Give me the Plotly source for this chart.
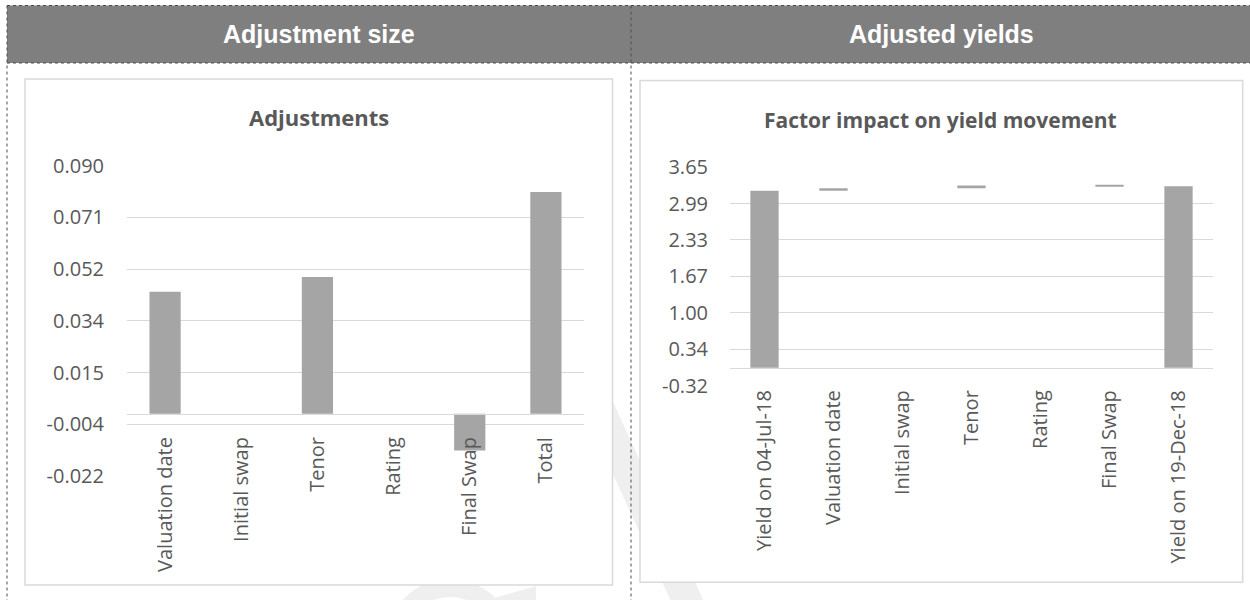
import numpy as np
import plotly.graph_objects as go

# ---- data ----
adj_categories = ["Valuation date", "Initial swap", "Tenor", "Rating", "Final Swap", "Total"]
adj_values = [0.0440, 0.0, 0.0493, 0.0, -0.0133, 0.0800]
adj_tick_labels = ["-0.022", "-0.004", "0.015", "0.034", "0.052", "0.071", "0.090"]

yield_categories = ["Yield on 04-Jul-18", "Valuation date", "Initial swap", "Tenor",
                    "Rating", "Final Swap", "Yield on 19-Dec-18"]
yield_start = 3.22
yield_end = 3.30
yield_steps = [0.0440, 0.0, 0.0493, 0.0, -0.0133]
yield_tick_labels = ["-0.32", "0.34", "1.00", "1.67", "2.33", "2.99", "3.65"]

# ---- page geometry (pixels) ----
W, H = 1250, 600
BAR = "#a5a5a5"
GRID = "#d9d9d9"
TXT = "#595959"
FONT = "Open Sans"


def px(x):
    return x / W


def py(y):
    return 1 - y / H


# waterfall bases: each step floats on the running total
cum = yield_start
step_bases = []
for s in yield_steps:
    step_bases.append(cum)
    cum += s
wf_bases = [0] + step_bases + [0]
wf_heights = [yield_start] + yield_steps + [yield_end]

fig = go.Figure()
fig.add_trace(go.Bar(x=adj_categories, y=adj_values, marker=dict(color=BAR, line=dict(width=0)),
                     xaxis="x", yaxis="y", hoverinfo="skip", showlegend=False))
fig.add_trace(go.Bar(x=yield_categories, y=wf_heights, base=wf_bases,
                     marker=dict(color=BAR, line=dict(width=0)),
                     xaxis="x2", yaxis="y2", hoverinfo="skip", showlegend=False))

# axis ranges and tick positions
y1_min, y1_max = -0.0225, 0.0895
y2_min, y2_max = -0.3225, 3.6475
y1_ticks = np.linspace(y1_min, y1_max, len(adj_tick_labels))
y2_ticks = np.linspace(y2_min, y2_max, len(yield_tick_labels))
eps1 = (y1_max - y1_min) * 0.002
eps2 = (y2_max - y2_min) * 0.002

y1_dom = [py(476.7), py(165)]
y2_dom = [py(386), py(166.7)]


def zero_pos(dom, lo, hi):
    return dom[0] + (0 - lo) / (hi - lo) * (dom[1] - dom[0])


tickfont = dict(family=FONT, size=20, color=TXT)

fig.update_layout(
    width=W, height=H, autosize=False,
    margin=dict(l=0, r=0, t=0, b=0),
    paper_bgcolor="white", plot_bgcolor="rgba(0,0,0,0)",
    bargap=0.59,
    xaxis=dict(domain=[px(127), px(584)], anchor="free",
               position=zero_pos(y1_dom, y1_min, y1_max), automargin=False,
               showgrid=False, showline=True, linecolor=GRID, linewidth=1,
               tickangle=-90, tickfont=tickfont, ticks="", ticklabelstandoff=14,
               fixedrange=True),
    yaxis=dict(domain=y1_dom, range=[y1_min - eps1, y1_max + eps1], automargin=False,
               tickvals=list(y1_ticks), ticktext=adj_tick_labels,
               showgrid=True, gridcolor=GRID, gridwidth=1, zeroline=False,
               showline=False, ticks="", tickfont=tickfont, ticklabelstandoff=22,
               fixedrange=True),
    xaxis2=dict(domain=[px(730), px(1213)], anchor="free",
                position=zero_pos(y2_dom, y2_min, y2_max), automargin=False,
                showgrid=False, showline=True, linecolor=GRID, linewidth=1,
                tickangle=-90, tickfont=tickfont, ticks="", ticklabelstandoff=13,
                fixedrange=True),
    yaxis2=dict(domain=y2_dom, range=[y2_min - eps2, y2_max + eps2], anchor="x2",
                automargin=False,
                tickvals=list(y2_ticks), ticktext=yield_tick_labels,
                showgrid=True, gridcolor=GRID, gridwidth=1, zeroline=False,
                showline=False, ticks="", tickfont=tickfont, ticklabelstandoff=21,
                fixedrange=True),
)

shapes = []
# faint background mark
mark = "#efefef"
shapes.append(dict(type="line", xref="paper", yref="paper", layer="below",
                   x0=px(598), y0=py(405), x1=px(705), y1=py(640),
                   line=dict(color=mark, width=30)))
shapes.append(dict(type="path", xref="paper", yref="paper", layer="below",
                   path=f"M {px(487)} {py(600)} L {px(536)} {py(600)} L {px(536)} {py(586)} Z",
                   fillcolor=mark, line=dict(width=0)))
shapes.append(dict(type="circle", xref="paper", yref="paper", layer="below",
                   x0=px(395), y0=py(700), x1=px(505), y1=py(588),
                   line=dict(color=mark, width=18)))
# chart frames
shapes.append(dict(type="rect", xref="paper", yref="paper", layer="below",
                   x0=px(25), y0=py(585), x1=px(612.5), y1=py(79),
                   fillcolor="white", line=dict(color=GRID, width=1.5)))
shapes.append(dict(type="rect", xref="paper", yref="paper", layer="below",
                   x0=px(640), y0=py(582.3), x1=px(1242.7), y1=py(80.5),
                   fillcolor="white", line=dict(color=GRID, width=1.5)))
# header band
shapes.append(dict(type="rect", xref="paper", yref="paper", layer="below",
                   x0=px(7), y0=py(63), x1=px(1252), y1=py(5.5),
                   fillcolor="#7f7f7f", line=dict(width=0)))
# dotted table rules
dot = dict(color="#4d4d4d", width=1, dash="dot")
for (xa, ya, xb, yb) in [(7, 5.5, 1252, 5.5), (7, 63, 1252, 63),
                         (7, 5.5, 7, 602), (631, 5.5, 631, 602)]:
    shapes.append(dict(type="line", xref="paper", yref="paper", layer="above",
                       x0=px(xa), y0=py(ya), x1=px(xb), y1=py(yb), line=dot))
fig.update_layout(shapes=shapes)

annotations = [
    dict(text="<b>Adjustment size</b>", x=px(319), y=py(34),
         font=dict(family="Liberation Sans", size=25, color="white")),
    dict(text="<b>Adjusted yields</b>", x=px(941), y=py(34),
         font=dict(family="Liberation Sans", size=25, color="white")),
    dict(text="<b>Adjustments</b>", x=px(319), y=py(117),
         font=dict(family=FONT, size=22, color=TXT)),
    dict(text="<b>Factor impact on yield movement</b>", x=px(940), y=py(120),
         font=dict(family=FONT, size=21, color=TXT)),
]
for a in annotations:
    a.update(xref="paper", yref="paper", showarrow=False, xanchor="center", yanchor="middle")
fig.update_layout(annotations=annotations)

fig.write_html("out.html", config={"displayModeBar": False})
